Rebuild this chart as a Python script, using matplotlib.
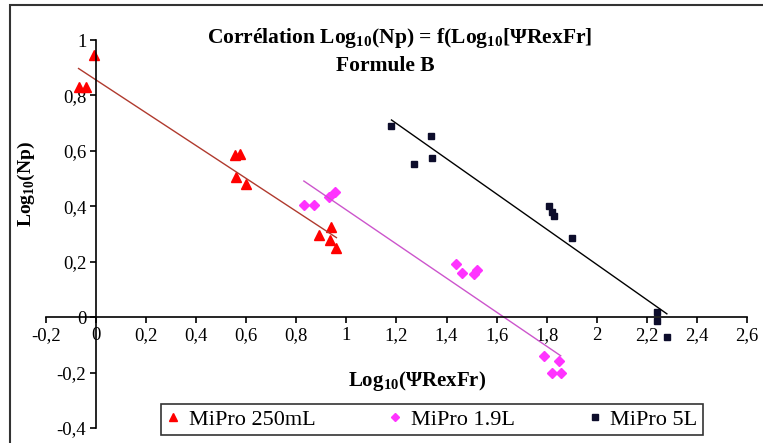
import matplotlib.pyplot as plt
import numpy as np
from matplotlib.patches import Rectangle

plt.rcParams['font.family'] = ['Liberation Serif', 'DejaVu Serif']
plt.rcParams['mathtext.fontset'] = 'custom'
plt.rcParams['mathtext.rm'] = 'Liberation Serif'
plt.rcParams['mathtext.bf'] = 'Liberation Serif:bold'

# MiPro 250mL
x_250 = [-0.07, -0.04, -0.01, 0.556, 0.576, 0.56, 0.60, 0.89, 0.94, 0.936, 0.96]
y_250 = [0.83, 0.83, 0.946, 0.586, 0.59, 0.507, 0.48, 0.295, 0.327, 0.277, 0.25]
# MiPro 1.9L
x_19 = [0.83, 0.87, 0.93, 0.956, 1.436, 1.46, 1.51, 1.52, 1.79, 1.85, 1.82, 1.856]
y_19 = [0.406, 0.406, 0.435, 0.45, 0.19, 0.16, 0.155, 0.17, -0.14, -0.16, -0.20, -0.20]
# MiPro 5L
x_5 = [1.18, 1.336, 1.27, 1.34, 1.81, 1.82, 1.83, 1.90, 2.24, 2.24, 2.28]
y_5 = [0.69, 0.655, 0.554, 0.576, 0.40, 0.38, 0.365, 0.285, 0.02, -0.014, -0.07]

x_ticks = [-0.2, 0, 0.2, 0.4, 0.6, 0.8, 1, 1.2, 1.4, 1.6, 1.8, 2, 2.2, 2.4, 2.6]
y_ticks = [-0.4, -0.2, 0, 0.2, 0.4, 0.6, 0.8, 1]

def fmt(v):
    return ('%g' % round(v, 1)).replace('.', ',')

fig = plt.figure(figsize=(7.63, 4.43), dpi=100)
ax = fig.add_axes([0.0603, 0.0339, 0.9187, 0.8758])

series = [
    (x_250, y_250, '^', 'red', '#b03a2e', 'MiPro 250mL', 7),
    (x_19, y_19, 'D', '#ff33ff', '#cc55cc', 'MiPro 1.9L', 5),
    (x_5, y_5, 's', '#0d0d2b', 'black', 'MiPro 5L', 5),
]
for xs, ys, m, c, lc, lab, ms in series:
    ax.plot(xs, ys, m, color=c, markersize=ms, linestyle='none', label=lab)
    k, b = np.polyfit(xs, ys, 1)
    xl = np.array([min(xs), max(xs)])
    ax.plot(xl, k * xl + b, '-', color=lc, linewidth=1)

ax.set_xlim(-0.2, 2.6)
ax.set_ylim(-0.4, 1)
ax.spines['left'].set_position(('data', 0))
ax.spines['bottom'].set_position(('data', 0))
ax.spines['right'].set_visible(False)
ax.spines['top'].set_visible(False)
for s in ['left', 'bottom']:
    ax.spines[s].set_linewidth(1.2)
ax.set_xticks(x_ticks)
ax.set_yticks(y_ticks)
ax.set_xticklabels([fmt(v) for v in x_ticks])
ax.set_yticklabels([fmt(v) for v in y_ticks])
ax.tick_params(direction='out', length=4, width=1.2, labelsize=13.5, pad=3)

fig.text(0.524, 0.915, r'Corrélation Log$_{\mathbf{10}}$(Np) = f(Log$_{\mathbf{10}}$[ΨRexFr]',
         ha='center', va='center', fontsize=15.5, fontweight='bold')
fig.text(0.505, 0.851, 'Formule B', ha='center', va='center', fontsize=15.5, fontweight='bold')
fig.text(0.035, 0.585, r'Log$_{\mathbf{10}}$(Np)', rotation=90, ha='center', va='center',
         fontsize=14, fontweight='bold')
fig.text(0.547, 0.139, r'Log$_{\mathbf{10}}$(ΨRexFr)', ha='center', va='center',
         fontsize=15, fontweight='bold')

leg = fig.legend(loc='center', bbox_to_anchor=(0.566, 0.053), ncol=3, fontsize=16,
                 frameon=True, fancybox=False, edgecolor='black', handlelength=0.6,
                 handletextpad=0.4, columnspacing=3.3, borderpad=0.25, borderaxespad=0,
                 markerscale=0.8)
leg.get_frame().set_linewidth(1.2)

fig.patches.append(Rectangle((10 / 763, -0.01), 1.0, 1 - 5 / 443 + 0.01,
                             transform=fig.transFigure, fill=False,
                             edgecolor='#333333', linewidth=1.5))

fig.savefig('out.png', dpi=100)
